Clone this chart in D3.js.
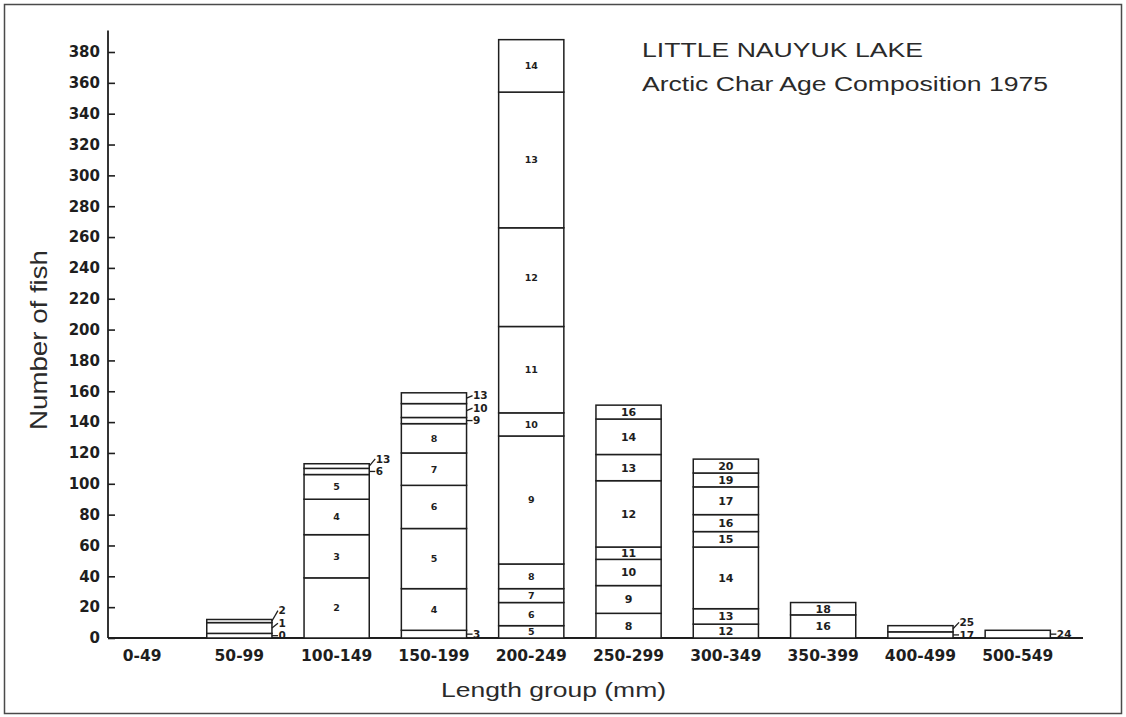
<!DOCTYPE html>
<html>
<head>
<meta charset="utf-8">
<script src="https://cdn.jsdelivr.net/npm/d3@7"></script>
<style>
  html, body { margin: 0; padding: 0; background: #fff; }
  svg { display: block; }
</style>
</head>
<body>
<div id="chart"></div>
<script>
// length groups (x categories)
const groups = ["0-49", "50-99", "100-149", "150-199", "200-249", "250-299", "300-349", "350-399", "400-499", "500-549"];

// ages stacked in each length group, bottom to top
const ages = [
  [],
  [0, 1, 2],
  [2, 3, 4, 5, 6, 13],
  [3, 4, 5, 6, 7, 8, 9, 10, 13],
  [5, 6, 7, 8, 9, 10, 11, 12, 13, 14],
  [8, 9, 10, 11, 12, 13, 14, 16],
  [12, 13, 14, 15, 16, 17, 19, 20],
  [16, 18],
  [17, 25],
  [24]
];

// number of fish for each age, same order as above
const counts = [
  [],
  [3, 7, 2],
  [39, 28, 23, 16, 4, 3],
  [5, 27, 39, 28, 21, 19, 4, 9, 7],
  [8, 15, 9, 16, 83, 15, 56, 64, 88, 34],
  [16, 18, 17, 8, 43, 17, 23, 9],
  [9, 10, 40, 10, 11, 18, 9, 9],
  [15, 8],
  [4, 4],
  [5]
];

const yTickValues = [0, 20, 40, 60, 80, 100, 120, 140, 160, 180, 200, 220, 240, 260, 280, 300, 320, 340, 360, 380];

const titleLines = ["LITTLE NAUYUK LAKE", "Arctic Char Age Composition 1975"];
const xTitle = "Length group (mm)";
const yTitle = "Number of fish";

const W = 1126, H = 717;
const ink = "#1e1e1e";

const svg = d3.select("#chart").append("svg")
  .attr("width", W)
  .attr("height", H);

// frame
svg.append("rect")
  .attr("x", 4.5).attr("y", 4.5)
  .attr("width", 1117).attr("height", 709)
  .attr("fill", "#fff")
  .attr("stroke", "#4a4a4a")
  .attr("stroke-width", 1.5);

const x = d3.scaleBand()
  .domain(groups)
  .range([93.4, 1066.4])
  .paddingInner(0.33)
  .paddingOuter(0.165);

const y = d3.scaleLinear()
  .domain([0, 380])
  .range([638, 52]);

// y axis: ticks point inward, line runs above the last tick
const yAxis = svg.append("g")
  .attr("transform", "translate(108,0)")
  .call(d3.axisLeft(y).tickValues(yTickValues).tickSizeInner(-7).tickSizeOuter(0).tickPadding(8));
yAxis.select(".domain").remove();
yAxis.selectAll(".tick line").attr("stroke", ink).attr("stroke-width", 1.6);
yAxis.selectAll(".tick text")
  .attr("fill", ink)
  .attr("font-family", "'DejaVu Sans', sans-serif")
  .attr("font-weight", "bold")
  .attr("font-size", 15);

svg.append("line")
  .attr("x1", 108).attr("x2", 108)
  .attr("y1", y(394)).attr("y2", y(0))
  .attr("stroke", ink).attr("stroke-width", 1.8);

// x axis
const xAxis = svg.append("g")
  .attr("transform", "translate(0," + y(0) + ")")
  .call(d3.axisBottom(x).tickSize(0).tickPadding(12));
xAxis.select(".domain").remove();
xAxis.selectAll(".tick text")
  .attr("fill", ink)
  .attr("font-family", "'DejaVu Sans', sans-serif")
  .attr("font-weight", "bold")
  .attr("font-size", 15.5);

svg.append("line")
  .attr("x1", 108).attr("x2", 1083)
  .attr("y1", y(0)).attr("y2", y(0))
  .attr("stroke", ink).attr("stroke-width", 1.8);

// build stacked segments per group
const segments = [];
groups.forEach((g, gi) => {
  let base = 0;
  ages[gi].forEach((age, i) => {
    const n = counts[gi][i];
    segments.push({ group: g, gi: gi, idx: i, age: age, y0: base, y1: base + n, n: n });
    base += n;
  });
});

// thin segments get their label at the side of the bar
const isThin = (gi, i) => counts[gi][i] < 8;
segments.forEach((s) => {
  const last = counts[s.gi].length - 1;
  const sandwiched = s.idx > 0 && s.idx < last && isThin(s.gi, s.idx - 1) && isThin(s.gi, s.idx + 1);
  s.outside = isThin(s.gi, s.idx) || sandwiched;
});

svg.append("g")
  .selectAll("rect")
  .data(segments)
  .join("rect")
  .attr("x", (d) => x(d.group))
  .attr("y", (d) => y(d.y1))
  .attr("width", x.bandwidth())
  .attr("height", (d) => y(d.y0) - y(d.y1))
  .attr("fill", "#fff")
  .attr("stroke", ink)
  .attr("stroke-width", 1.5);

// inside labels (the tallest bar was lettered a bit smaller)
svg.append("g")
  .selectAll("text")
  .data(segments.filter((d) => !d.outside))
  .join("text")
  .attr("x", (d) => x(d.group) + x.bandwidth() / 2)
  .attr("y", (d) => (y(d.y0) + y(d.y1)) / 2)
  .attr("dy", "0.36em")
  .attr("text-anchor", "middle")
  .attr("fill", ink)
  .attr("font-family", "'DejaVu Sans', sans-serif")
  .attr("font-weight", "bold")
  .attr("font-size", (d) => (d.gi >= 5 ? 11 : 9.5))
  .text((d) => d.age);

// side labels with leader lines, spread upward so they don't overlap
const side = svg.append("g");
groups.forEach((g, gi) => {
  const list = segments.filter((d) => d.gi === gi && d.outside);
  let prevY = Infinity;
  list.forEach((d) => {
    const mid = (y(d.y0) + y(d.y1)) / 2;
    const ly = Math.min(mid, prevY - 12.5);
    prevY = ly;
    const bx = x(d.group) + x.bandwidth();
    side.append("line")
      .attr("x1", bx).attr("y1", mid)
      .attr("x2", bx + 6).attr("y2", ly)
      .attr("stroke", ink).attr("stroke-width", 1.3);
    side.append("text")
      .attr("x", bx + 6.5)
      .attr("y", ly)
      .attr("dy", "0.36em")
      .attr("fill", ink)
      .attr("font-family", "'DejaVu Sans', sans-serif")
      .attr("font-weight", "bold")
      .attr("font-size", 10.5)
      .text(d.age);
  });
});

// titles
svg.append("text")
  .attr("x", 642).attr("y", 57)
  .attr("fill", "#2a2a2a")
  .attr("font-family", "'Liberation Sans', Arial, sans-serif")
  .attr("font-size", 20.5)
  .attr("textLength", 281)
  .attr("lengthAdjust", "spacingAndGlyphs")
  .text(titleLines[0]);

svg.append("text")
  .attr("x", 642).attr("y", 91)
  .attr("fill", "#2a2a2a")
  .attr("font-family", "'Liberation Sans', Arial, sans-serif")
  .attr("font-size", 20.5)
  .attr("textLength", 406)
  .attr("lengthAdjust", "spacingAndGlyphs")
  .text(titleLines[1]);

svg.append("text")
  .attr("x", 441).attr("y", 697)
  .attr("fill", "#2a2a2a")
  .attr("font-family", "'Liberation Sans', Arial, sans-serif")
  .attr("font-size", 20)
  .attr("textLength", 225)
  .attr("lengthAdjust", "spacingAndGlyphs")
  .text(xTitle);

svg.append("text")
  .attr("transform", "translate(47,430) rotate(-90)")
  .attr("fill", "#2a2a2a")
  .attr("font-family", "'Liberation Sans', Arial, sans-serif")
  .attr("font-size", 24)
  .attr("textLength", 180)
  .attr("lengthAdjust", "spacingAndGlyphs")
  .text(yTitle);
</script>
</body>
</html>
